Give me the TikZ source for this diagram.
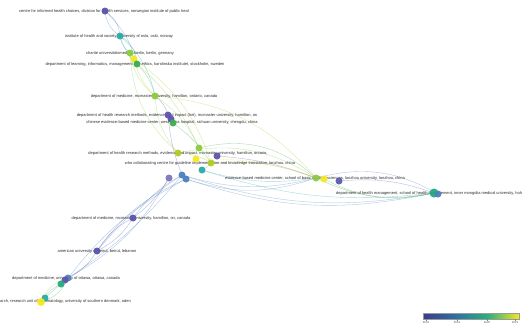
\documentclass[tikz,border=0pt]{standalone}
\usepackage{fontspec}
\setmainfont{Liberation Sans}
\definecolor{cpur}{RGB}{92,84,172}
\definecolor{cblu}{RGB}{78,128,190}
\definecolor{cteal}{RGB}{45,170,170}
\definecolor{ctg}{RGB}{35,170,125}
\definecolor{cgrn}{RGB}{60,175,80}
\definecolor{clg}{RGB}{140,205,60}
\definecolor{cyg}{RGB}{175,205,40}
\definecolor{cyel}{RGB}{245,232,35}
\definecolor{cb0}{RGB}{62,58,140}
\definecolor{cb1}{RGB}{45,112,160}
\definecolor{cb2}{RGB}{40,175,125}
\definecolor{cb3}{RGB}{245,230,35}
\begin{document}
\begin{tikzpicture}[x=1pt,y=-1pt,
  lbl/.style={font=\fontsize{4.0}{4.4}\selectfont, text=black!82, inner sep=0pt},
  nd/.style={circle, inner sep=0pt, minimum size=7pt, fill=#1, opacity=.95},
  ed/.style={draw=#1, line width=.4pt, opacity=.42},
  tick/.style={font=\fontsize{2.8}{3}\selectfont, text=black!70, inner sep=0pt}]
\useasboundingbox (0,0) rectangle (525,327);
\fill[white] (0,0) rectangle (525,327);
% coordinates
\coordinate (a) at (105,11);
\coordinate (b) at (120,36);
\coordinate (c) at (130,53);
\coordinate (d) at (134,59);
\coordinate (e) at (137,64);
\coordinate (f) at (155,96);
\coordinate (g) at (168,115);
\coordinate (g2) at (171,119);
\coordinate (h) at (173,123);
\coordinate (i) at (199,148);
\coordinate (j) at (178,153);
\coordinate (k) at (217,156);
\coordinate (l) at (196,159);
\coordinate (m) at (211,163);
\coordinate (n) at (202,170);
\coordinate (o) at (182,175);
\coordinate (p) at (186,179);
\coordinate (q) at (169,178);
\coordinate (r) at (316,178);
\coordinate (s) at (324,179);
\coordinate (t) at (339,181);
\coordinate (u) at (434,193);
\coordinate (v) at (438,194);
\coordinate (w) at (133,218);
\coordinate (x) at (97,251);
\coordinate (y) at (68,278);
\coordinate (y2) at (65,280);
\coordinate (z) at (61,284);
\coordinate (aa) at (45,298);
\coordinate (ab) at (41,302);
% edges top
\draw[ed=cblu] (a) to[bend left=25] (b);
\draw[ed=cblu] (a) to[bend right=25] (b);
\draw[ed=cblu] (a) to[bend left=15] (e);
\draw[ed=cteal] (b) to[bend right=20] (c);
\draw[ed=cteal] (b) to[bend left=28] (e);
\draw[ed=cteal] (b) to[bend right=15] (e);
\draw[ed=cgrn] (c) to[bend left=20] (e);
\draw[ed=clg] (c) to[bend right=20] (f);
\draw[ed=cgrn] (e) to[bend left=15] (f);
\draw[ed=cyg] (d) to[bend right=15] (f);
\draw[ed=cteal] (b) to[bend left=18] (f);
\draw[ed=clg] (e) to[bend left=12] (i);
\draw[ed=clg] (f) to[bend left=15] (i);
\draw[ed=cyg] (f) to[bend left=22] (r);
\draw[ed=cyg] (d) to[bend left=18] (m);
\draw[ed=clg] (c) to[bend right=22] (j);
\draw[ed=clg] (f) to[bend right=18] (j);
\draw[ed=cpur] (f) to[bend left=18] (g);
\draw[ed=cgrn] (g) to[bend left=10] (h);
\draw[ed=cpur] (g) to[bend right=8] (o);
\draw[ed=cgrn] (h) to[bend left=10] (m);
% middle
\draw[ed=cgrn] (i) to[bend left=28] (r);
\draw[ed=clg] (j) to[bend left=22] (r);
\draw[ed=cyel] (l) to[bend left=10] (r);
\draw[ed=cyg] (m) to[bend left=12] (r);
\draw[ed=cyg] (j) to[bend left=15] (m);
\draw[ed=cpur] (k) to[bend left=8] (r);
\draw[ed=cteal] (n) to[bend right=12] (r);
\draw[ed=cblu] (o) to[bend right=15] (r);
\draw[ed=cblu] (p) to[bend right=18] (r);
\draw[ed=cteal] (n) to[bend right=12] (m);
\draw[ed=cblu] (o) to[bend right=14] (u);
\draw[ed=cblu] (p) to[bend right=15] (u);
\draw[ed=cteal] (n) to[bend right=12] (u);
\draw[ed=cblu] (r) to[bend left=22] (v);
\draw[ed=cgrn] (r) to[bend right=18] (u);
\draw[ed=cgrn] (s) to[bend right=20] (u);
\draw[ed=cpur] (t) to[bend left=12] (u);
% bottom
\draw[ed=cblu] (o) to[bend right=12] (w);
\draw[ed=cpur] (q) to[bend left=10] (w);
\draw[ed=cblu] (o) to[bend right=8] (x);
\draw[ed=cblu] (p) to[bend right=15] (x);
\draw[ed=cblu] (o) to[bend left=8] (y);
\draw[ed=cblu] (p) to[bend right=12] (y);
\draw[ed=cpur] (w) to[bend left=15] (x);
\draw[ed=cpur] (w) to[bend right=15] (x);
\draw[ed=cpur] (x) to[bend left=15] (y);
\draw[ed=cblu] (q) to[bend left=15] (y);
\draw[ed=cgrn] (y) to[bend left=25] (ab);
\draw[ed=cyg] (y) to[bend right=25] (ab);
\draw[ed=ctg] (z) to[bend right=15] (ab);
\draw[ed=ctg] (y) to (z);
\draw[ed=cteal] (z) to (aa);
% labels
\node[lbl] (la) at (104,11) {centre for informed health choices, division for health services, norwegian institute of public heal};
\node[lbl] (lb) at (119,36) {institute of health and society, university of oslo, oslo, norway};
\node[lbl] (lc) at (130,53) {charite universitätsmedizin berlin, berlin, germany};
\node[lbl] (le) at (135,64) {department of learning, informatics, management and ethics, karolinska institutet, stockholm, sweden};
\node[lbl] (lf) at (154,96) {department of medicine, mcmaster university, hamilton, ontario, canada};
\node[lbl] (lg) at (167,115) {department of health research methods, evidence, and impact (hei), mcmaster university, hamilton, on};
\node[lbl] (lh) at (172,122) {chinese evidence-based medicine center, west china hospital, sichuan university, chengdu, china};
\node[lbl] (lj) at (178,153) {department of health research methods, evidence and impact, mcmaster university, hamilton, ontario,};
\node[lbl] (lm) at (210,163) {who collaborating centre for guideline implementation and knowledge translation, lanzhou, china};
\node[lbl] (lr) at (315,178) {evidence-based medicine center, school of basic medical sciences, lanzhou university, lanzhou, china};
\node[lbl,anchor=west] (lu) at (336,193) {department of health management, school of health management, inner mongolia medical university, hoh};
\node[lbl] (lw) at (131,218) {department of medicine, mcmaster university, hamilton, on, canada};
\node[lbl] (lx) at (97,251) {american university of beirut, beirut, lebanon};
\node[lbl] (ly) at (66,278) {department of medicine, university of ottawa, ottawa, canada};
\node[lbl,anchor=west] (lab) at (0,301.5) {arch, research unit of rheumatology, university of southern denmark, oden};
% nodes
\node[nd=cpur] (na) at (a) {};
\node[nd=cteal] (nb) at (b) {};
\node[nd=clg] (nc) at (c) {};
\node[nd=cyel] (nd1) at (d) {};
\node[nd=cgrn] (ne) at (e) {};
\node[nd=clg] (nf) at (f) {};
\node[nd=cpur] (ng) at (g) {};
\node[nd=cpur] (ng2) at (g2) {};
\node[nd=cgrn] (nh) at (h) {};
\node[nd=clg] (ni) at (i) {};
\node[nd=cyg] (nj) at (j) {};
\node[nd=cpur] (nk) at (k) {};
\node[nd=cyel] (nl) at (l) {};
\node[nd=cyg] (nm) at (m) {};
\node[nd=cteal] (nn) at (n) {};
\node[nd=cblu] (no) at (o) {};
\node[nd=cblu] (np) at (p) {};
\node[nd=cpur!80!white] (nq) at (q) {};
\node[nd=clg] (nr) at (r) {};
\node[nd=cyel] (ns) at (s) {};
\node[nd=cpur!85!cblu] (nt) at (t) {};
\node[nd=ctg,minimum size=9pt] (nu) at (u) {};
\node[nd=cblu] (nv) at (v) {};
\node[nd=cpur] (nw) at (w) {};
\node[nd=cpur] (nx) at (x) {};
\node[nd=cblu] (ny) at (y) {};
\node[nd=cpur] (ny2) at (y2) {};
\node[nd=ctg] (nz) at (z) {};
\node[nd=cteal] (naa) at (aa) {};
\node[nd=cyel,minimum size=8pt] (nab) at (ab) {};
% colour bar
\shade[left color=cb0,right color=cb1] (423,313) rectangle (455,319);
\shade[left color=cb1,right color=cb2] (455,313) rectangle (487,319);
\shade[left color=cb2,right color=cb3] (487,313) rectangle (519,319);
\draw[black!40,line width=.3pt] (423,313) rectangle (519,319);
\foreach \xx/\yy in {426/2018,457/2019,487/2020,515/2021}{
  \draw[black!50,line width=.3pt] (\xx,319) -- (\xx,320.5);
  \node[tick] at (\xx,323) {\yy};
}
\end{tikzpicture}
\end{document}
